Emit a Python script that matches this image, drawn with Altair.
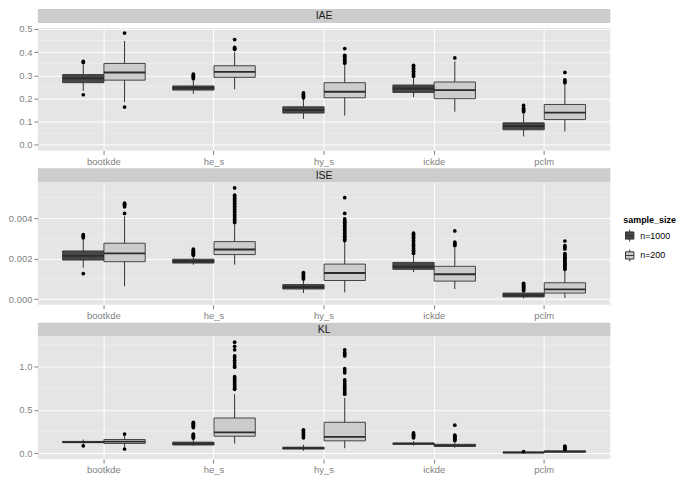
import altair as alt
import pandas as pd

methods = ["bootkde", "he_s", "hy_s", "ickde", "pclm"]
sizes = ["n=1000", "n=200"]
# group order: bootkde n=1000, bootkde n=200, he_s n=1000, he_s n=200, ...

# ---------------- IAE ----------------
iae_lo = [0.233, 0.185, 0.220, 0.240, 0.112, 0.126, 0.206, 0.143, 0.036, 0.058]
iae_q1 = [0.268, 0.279, 0.236, 0.291, 0.137, 0.203, 0.226, 0.199, 0.065, 0.109]
iae_med = [0.287, 0.312, 0.246, 0.315, 0.150, 0.229, 0.243, 0.236, 0.081, 0.139]
iae_q3 = [0.303, 0.351, 0.254, 0.341, 0.164, 0.268, 0.258, 0.271, 0.095, 0.174]
iae_hi = [0.345, 0.448, 0.278, 0.400, 0.198, 0.345, 0.290, 0.360, 0.135, 0.262]
iae_out = [
    [0.355, 0.360, 0.216],
    [0.482, 0.163],
    [0.285, 0.290, 0.295, 0.300, 0.305],
    [0.412, 0.416, 0.420, 0.454],
    [0.203, 0.208, 0.212, 0.218, 0.224],
    [0.352, 0.358, 0.363, 0.368, 0.375, 0.382, 0.386, 0.415],
    [0.296, 0.303, 0.310, 0.317, 0.323, 0.330, 0.337, 0.343],
    [0.375],
    [0.143, 0.148, 0.152, 0.158, 0.170],
    [0.268, 0.273, 0.280, 0.312],
]

# ---------------- ISE ----------------
ise_lo = [0.00155, 0.00064, 0.00170, 0.00170, 0.00030, 0.00034, 0.00134, 0.00050, 0.00003, 0.00006]
ise_q1 = [0.00193, 0.00185, 0.00178, 0.00220, 0.00050, 0.00092, 0.00147, 0.00089, 0.00011, 0.00030]
ise_med = [0.00214, 0.00226, 0.00187, 0.00245, 0.00060, 0.00129, 0.00160, 0.00123, 0.00019, 0.00048]
ise_q3 = [0.00238, 0.00276, 0.00197, 0.00284, 0.00072, 0.00173, 0.00181, 0.00162, 0.00030, 0.00081]
ise_hi = [0.00295, 0.00409, 0.00212, 0.00370, 0.00095, 0.00282, 0.00222, 0.00252, 0.00040, 0.00142]
ise_out = [
    [0.00303, 0.00308, 0.00313, 0.00318, 0.00126],
    [0.00423, 0.00456, 0.00462, 0.00468, 0.00474],
    [0.00217, 0.00222, 0.00227, 0.00232, 0.00237, 0.00242, 0.00247],
    [0.00378, 0.00386, 0.00394, 0.00402, 0.00410, 0.00418, 0.00426, 0.00434, 0.00442,
     0.00450, 0.00458, 0.00466, 0.00474, 0.00482, 0.00490, 0.00498, 0.00506, 0.00513, 0.00549],
    [0.00100, 0.00105, 0.00110, 0.00115, 0.00120, 0.00126, 0.00131],
    [0.00289, 0.00296, 0.00303, 0.00310, 0.00317, 0.00324, 0.00331, 0.00338, 0.00345,
     0.00352, 0.00359, 0.00366, 0.00373, 0.00380, 0.00388, 0.00396, 0.00423, 0.00501],
    [0.00226, 0.00234, 0.00242, 0.00250, 0.00258, 0.00266, 0.00274, 0.00282, 0.00290,
     0.00298, 0.00306, 0.00314, 0.00320, 0.00326],
    [0.00264, 0.00270, 0.00276, 0.00282, 0.00337],
    [0.00042, 0.00047, 0.00052, 0.00057, 0.00062, 0.00067, 0.00072, 0.00078],
    [0.00147, 0.00153, 0.00159, 0.00165, 0.00171, 0.00177, 0.00183, 0.00189, 0.00195,
     0.00201, 0.00207, 0.00213, 0.00219, 0.00225, 0.00248, 0.00256, 0.00264, 0.00287],
]

# ---------------- KL ----------------
kl_lo = [0.110, 0.070, 0.085, 0.113, 0.030, 0.060, 0.090, 0.065, 0.003, 0.005]
kl_q1 = [0.124, 0.115, 0.097, 0.198, 0.050, 0.145, 0.105, 0.080, 0.008, 0.015]
kl_med = [0.131, 0.137, 0.112, 0.242, 0.060, 0.190, 0.112, 0.093, 0.011, 0.022]
kl_q3 = [0.138, 0.160, 0.130, 0.407, 0.072, 0.358, 0.120, 0.105, 0.015, 0.030]
kl_hi = [0.160, 0.200, 0.165, 0.680, 0.100, 0.637, 0.140, 0.130, 0.020, 0.040]
kl_out = [
    [0.088],
    [0.223, 0.051],
    [0.176, 0.185, 0.195, 0.205, 0.215, 0.223, 0.297, 0.310, 0.320, 0.335, 0.345, 0.358],
    [0.736, 0.750, 0.770, 0.790, 0.810, 0.830, 0.850, 0.865, 0.882, 0.990, 1.010,
     1.040, 1.070, 1.100, 1.120, 1.190, 1.230, 1.278],
    [0.180, 0.200, 0.220, 0.240, 0.260, 0.270],
    [0.680, 0.700, 0.720, 0.740, 0.760, 0.780, 0.800, 0.826, 0.846, 0.926, 0.950,
     0.974, 1.120, 1.140, 1.160, 1.190],
    [0.180, 0.190, 0.200, 0.210, 0.220, 0.235],
    [0.150, 0.160, 0.170, 0.180, 0.190, 0.200, 0.210, 0.325],
    [0.022],
    [0.045, 0.055, 0.065, 0.075, 0.085],
]

W = 575
H = 123
FONT = "Liberation Sans"
AXIS_GREY = "#7F7F7F"


def frames(lo, q1, med, q3, hi, out):
    rows, orows = [], []
    i = 0
    for m in methods:
        for s in sizes:
            rows.append(dict(method=m, size=s, lo=lo[i], q1=q1[i], med=med[i], q3=q3[i], hi=hi[i]))
            for v in out[i]:
                orows.append(dict(method=m, size=s, y=v))
            i += 1
    return pd.DataFrame(rows), pd.DataFrame(orows)


def panel(stats, domain, ticks, minor, fmt):
    box, out = frames(*stats)
    yscale = alt.Scale(domain=domain, nice=False, zero=False)
    xscale = alt.Scale(domain=methods, paddingInner=0.25, paddingOuter=0.225)
    oscale = alt.Scale(domain=sizes, paddingInner=0, paddingOuter=0)
    xaxis = alt.Axis(title=None, bandPosition=0.5, grid=True, gridColor="white", gridWidth=1,
                     domain=False, tickColor=AXIS_GREY, tickSize=4, labelColor=AXIS_GREY,
                     labelFont=FONT, labelFontSize=9.5, labelPadding=2, labelAngle=0)
    yaxis = alt.Axis(title=None, values=ticks, format=fmt, grid=True, gridColor="white", gridWidth=1,
                     domain=False, tickColor=AXIS_GREY, tickSize=4, labelColor=AXIS_GREY,
                     labelFont=FONT, labelFontSize=9.5, labelPadding=2)

    minor_layer = alt.Chart(pd.DataFrame({"v": minor})).mark_rule(
        color="#F2F2F2", strokeWidth=0.6
    ).encode(y=alt.Y("v:Q", scale=yscale, axis=yaxis))

    base = alt.Chart(box)
    x = alt.X("method:N", scale=xscale, axis=xaxis)
    xo = alt.XOffset("size:N", scale=oscale)

    whisk = base.mark_rule(color="#333333", strokeWidth=1).encode(
        x=x, xOffset=xo,
        y=alt.Y("lo:Q", scale=yscale, axis=yaxis), y2="hi:Q")

    boxes = base.mark_bar(stroke="#333333", strokeWidth=0.9).encode(
        x=x, xOffset=xo,
        y=alt.Y("q1:Q", scale=yscale, axis=yaxis), y2="q3:Q",
        fill=alt.Fill("size:N", scale=alt.Scale(domain=sizes, range=["#474747", "#CCCCCC"]),
                      legend=alt.Legend(title="sample_size")))

    meds = base.mark_bar(stroke="#2B2B2B", strokeWidth=1.8, fillOpacity=0).encode(
        x=x, xOffset=xo,
        y=alt.Y("med:Q", scale=yscale, axis=yaxis), y2="med:Q")

    pts = alt.Chart(out).mark_circle(size=14, color="black", opacity=1).encode(
        x=x, xOffset=xo,
        y=alt.Y("y:Q", scale=yscale, axis=yaxis))

    return alt.layer(minor_layer, whisk, boxes, meds, pts).properties(
        width=W, height=H, view=alt.ViewBackground(fill="#E5E5E5", strokeWidth=0))


def strip(label, h, top):
    base = alt.Chart(pd.DataFrame({"t": [label]}))
    rect = base.mark_rect(color="#CCCCCC").encode(
        x=alt.value(0), x2=alt.value(W), y=alt.value(top), y2=alt.value(h))
    txt = base.mark_text(font=FONT, fontSize=10.5, color="#1A1A1A", baseline="middle").encode(
        x=alt.value(W / 2), y=alt.value((top + h) / 2 + 0.5), text="t:N")
    return alt.layer(rect, txt).properties(width=W, height=h,
                                           view=alt.ViewBackground(strokeWidth=0))


p1 = panel((iae_lo, iae_q1, iae_med, iae_q3, iae_hi, iae_out), [-0.024, 0.504],
           [0.0, 0.1, 0.2, 0.3, 0.4, 0.5], [0.05, 0.15, 0.25, 0.35, 0.45], ".1f")
p2 = panel((ise_lo, ise_q1, ise_med, ise_q3, ise_hi, ise_out), [-0.000275, 0.00577],
           [0.0, 0.002, 0.004], [0.001, 0.003, 0.005], ".3f")
p3 = panel((kl_lo, kl_q1, kl_med, kl_q3, kl_hi, kl_out), [-0.064, 1.342],
           [0.0, 0.5, 1.0], [0.25, 0.75, 1.25], ".1f")

legend_path = "M-0.7,-0.6H0.7V0.6H-0.7Z M-0.7,0H0.7 M0,-0.6V-1 M0,0.6V1"

chart = alt.vconcat(
    strip("IAE", 14, 0), p1,
    strip("ISE", 16, 2), p2,
    strip("KL", 16, 2), p3,
    spacing=0,
).properties(
    padding={"left": 0, "top": 0, "right": 0, "bottom": 0}
).configure_view(
    strokeWidth=0
).configure_legend(
    orient="none", legendX=W + 13, legendY=208,
    titleFont=FONT, titleFontSize=9, titleFontWeight="bold", titleColor="black",
    labelFont=FONT, labelFontSize=9, labelColor="black",
    symbolType=legend_path, symbolSize=144, symbolStrokeColor="#333333",
    symbolStrokeWidth=1, rowPadding=3, labelOffset=4, titlePadding=4
)

chart.save("out.html", embed_options={"renderer": "svg", "actions": False})
